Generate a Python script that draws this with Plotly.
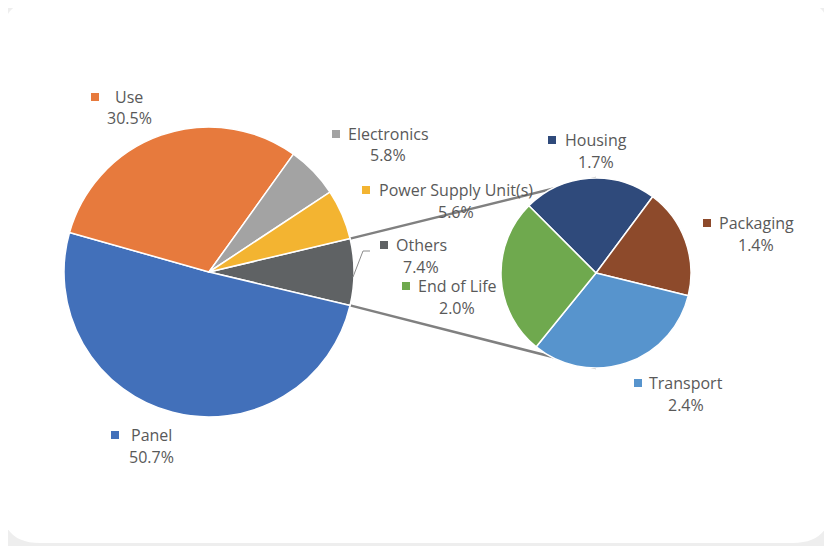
import math
import plotly.graph_objects as go

W, H = 832, 546
OFF = 8  # page body margin offset

# ---- data ----
main_labels = ["Others", "Panel", "Use", "Electronics", "Power Supply Unit(s)"]
main_values = [7.4, 50.7, 30.5, 5.8, 5.6]
main_text = ["7.4%", "50.7%", "30.5%", "5.8%", "5.6%"]

sub_labels = ["Housing", "Packaging", "Transport", "End of Life"]
sub_values = [1.7, 1.4, 2.4, 2.0]
sub_text = ["1.7%", "1.4%", "2.4%", "2.0%"]

# ---- styles / layout ----
main_colors = ["#5F6264", "#4270BA", "#E77A3D", "#A3A3A3", "#F3B431"]
sub_colors = ["#2F4A7B", "#8D4A2B", "#5794CD", "#6FA94E"]

MAIN_C = (209, 272)
MAIN_R = 145
SUB_C = (596, 273)
SUB_R = 95

# label placement in pixels: (text centre x, first line y, key x)
main_pos = {
    "Others": (421, 245, 384),
    "Panel": (151, 435, 115),
    "Use": (129, 97, 95),
    "Electronics": (388, 134, 336),
    "Power Supply Unit(s)": (456, 190, 366),
}
sub_pos = {
    "Housing": (596, 140, 552),
    "Packaging": (756, 223, 707),
    "Transport": (686, 383, 638),
    "End of Life": (457, 286, 406),
}
LINE_GAP = 21.5
TEXT_COLOR = "#595959"
FONT = "Open Sans"
FSIZE = 16


def px(x):
    return (x - OFF) / W


def py(y):
    return 1 - (y - OFF) / H


def domain(c, r):
    return dict(x=[px(c[0] - r), px(c[0] + r)], y=[py(c[1] + r), py(c[1] - r)])


others_share = main_values[0] / sum(main_values)
half = others_share * 180.0

fig = go.Figure()
fig.add_trace(go.Pie(
    labels=main_labels, values=main_values, sort=False,
    direction="clockwise", rotation=90 - half,
    marker=dict(colors=main_colors, line=dict(color="white", width=1.5)),
    textinfo="none", hoverinfo="label+percent", showlegend=False,
    domain=domain(MAIN_C, MAIN_R),
))
fig.add_trace(go.Pie(
    labels=sub_labels, values=sub_values, sort=False,
    direction="clockwise", rotation=-45,
    marker=dict(colors=sub_colors, line=dict(color="white", width=1.5)),
    textinfo="none", hoverinfo="label+value", showlegend=False,
    domain=domain(SUB_C, SUB_R),
))

shapes = []
# rounded white card
R = 38
x0, y0, x1, y1 = 2, 0, 831, 543
path = (f"M {px(x0+R)},{py(y0)} L {px(x1-R)},{py(y0)} Q {px(x1)},{py(y0)} {px(x1)},{py(y0+R)} "
        f"L {px(x1)},{py(y1-R)} Q {px(x1)},{py(y1)} {px(x1-R)},{py(y1)} "
        f"L {px(x0+R)},{py(y1)} Q {px(x0)},{py(y1)} {px(x0)},{py(y1-R)} "
        f"L {px(x0)},{py(y0+R)} Q {px(x0)},{py(y0)} {px(x0+R)},{py(y0)} Z")
shapes.append(dict(type="path", path=path, xref="paper", yref="paper",
                   fillcolor="white", line=dict(width=0), layer="below"))

# connector lines from the split slice to the secondary pie
h = math.radians(half)
top_main = (MAIN_C[0] + MAIN_R * math.cos(h), MAIN_C[1] - MAIN_R * math.sin(h))
bot_main = (MAIN_C[0] + MAIN_R * math.cos(h), MAIN_C[1] + MAIN_R * math.sin(h))
top_sub = (SUB_C[0], SUB_C[1] - SUB_R)
bot_sub = (SUB_C[0], SUB_C[1] + SUB_R)
for a, b in [(top_main, top_sub), (bot_main, bot_sub)]:
    shapes.append(dict(type="line", xref="paper", yref="paper",
                       x0=px(a[0]), y0=py(a[1]), x1=px(b[0]), y1=py(b[1]),
                       line=dict(color="#808080", width=2.5), layer="below"))

# leader line for "Others"
shapes.append(dict(type="path", xref="paper", yref="paper",
                   path=f"M {px(370)},{py(251)} L {px(363)},{py(251)} L {px(353)},{py(277)}",
                   line=dict(color="#8C8C8C", width=1), layer="above"))

annotations = []


def add_label(name, pct, pos, color):
    cx, y, kx = pos
    annotations.append(dict(x=px(cx), y=py(y), xref="paper", yref="paper", text=name,
                            showarrow=False, xanchor="center", yanchor="middle",
                            font=dict(family=FONT, size=FSIZE, color=TEXT_COLOR)))
    annotations.append(dict(x=px(cx), y=py(y + LINE_GAP), xref="paper", yref="paper", text=pct,
                            showarrow=False, xanchor="center", yanchor="middle",
                            font=dict(family=FONT, size=FSIZE, color=TEXT_COLOR)))
    s = 4
    shapes.append(dict(type="rect", xref="paper", yref="paper",
                       x0=px(kx - s), x1=px(kx + s), y0=py(y - s), y1=py(y + s),
                       fillcolor=color, line=dict(width=0)))


for lab, t, col in zip(main_labels, main_text, main_colors):
    add_label(lab, t, main_pos[lab], col)
for lab, t, col in zip(sub_labels, sub_text, sub_colors):
    add_label(lab, t, sub_pos[lab], col)

fig.update_layout(
    width=W, height=H,
    margin=dict(l=0, r=0, t=0, b=0),
    paper_bgcolor="#EEEEEE",
    plot_bgcolor="rgba(0,0,0,0)",
    shapes=shapes,
    annotations=annotations,
)

fig.write_html("out.html")
